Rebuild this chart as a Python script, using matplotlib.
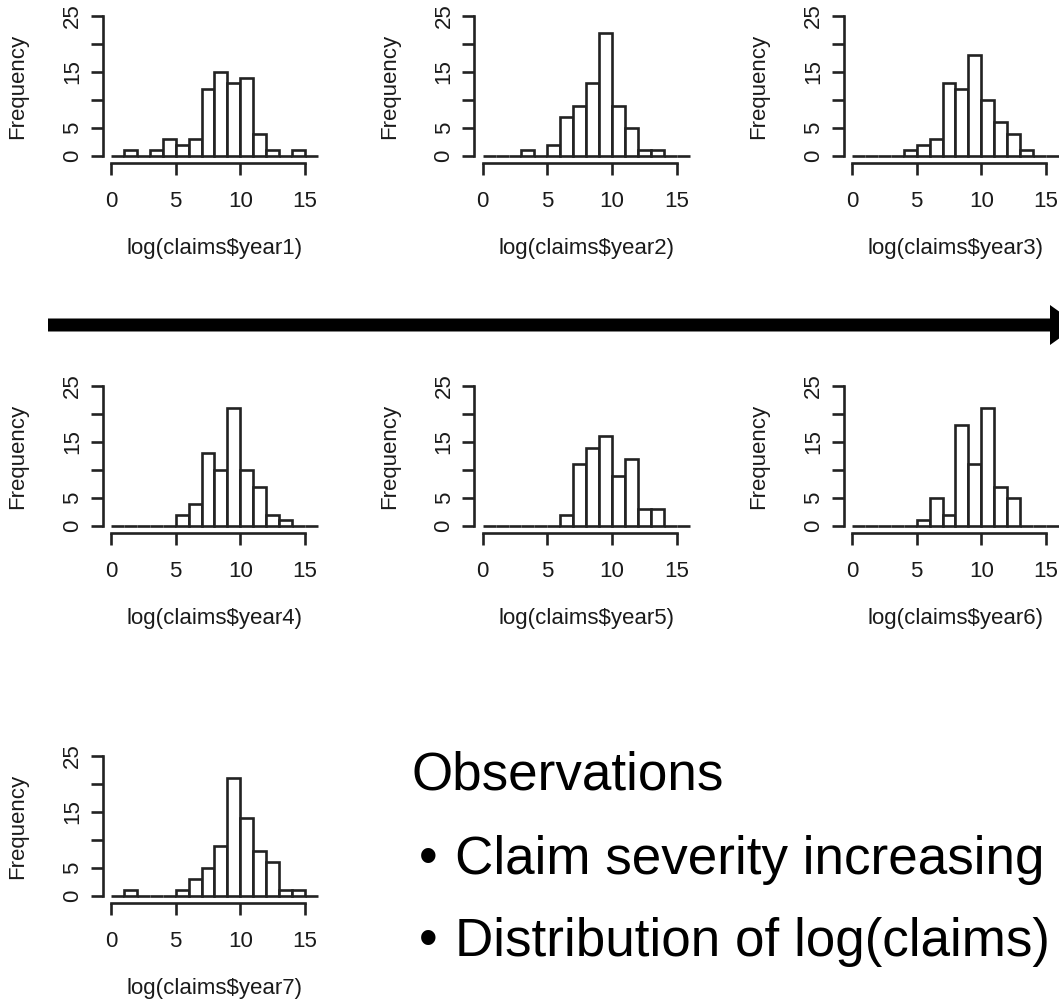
import matplotlib
matplotlib.use("Agg")
import matplotlib.pyplot as plt
from matplotlib.patches import FancyArrow
import numpy as np

plt.rcParams['font.family'] = ['Liberation Sans', 'DejaVu Sans']

# ---- data: histogram counts for bins [0,1),[1,2),...,[15,16) ----
bin_edges = list(range(0, 17))
year1 = [0, 1, 0, 1, 3, 2, 3, 12, 15, 13, 14, 4, 1, 0, 1, 0]
year2 = [0, 0, 0, 1, 0, 2, 7, 9, 13, 22, 9, 5, 1, 1, 0, 0]
year3 = [0, 0, 0, 0, 1, 2, 3, 13, 12, 18, 10, 6, 4, 1, 0, 0]
year4 = [0, 0, 0, 0, 0, 2, 4, 13, 10, 21, 10, 7, 2, 1, 0, 0]
year5 = [0, 0, 0, 0, 0, 0, 2, 11, 14, 16, 9, 12, 3, 3, 0, 0]
year6 = [0, 0, 0, 0, 0, 1, 5, 2, 18, 11, 21, 7, 5, 0, 0, 0]
year7 = [0, 1, 0, 0, 0, 1, 3, 5, 9, 21, 14, 8, 6, 1, 1, 0]
series = [year1, year2, year3, year4, year5, year6, year7]
xlabels = ["log(claims$year%d)" % i for i in range(1, 8)]
xticks = [0, 5, 10, 15]
yticks = [0, 5, 10, 15, 20, 25]
ytick_labels = ["0", "5", "", "15", "", "25"]
obs_title = "Observations"
bullet_texts = ["Claim severity increasing", "Distribution of log(claims)"]

W, H = 1059, 1000
fig = plt.figure(figsize=(W / 100, H / 100), dpi=100)
fig.patch.set_facecolor("white")

col_x0 = [111, 482.7, 852]
row_y0 = [156, 526, 896]
pxx = 12.93
pxy = 5.6
XL = (-0.64, 16.64)
YL = (-1.2, 26)
LC = "#222222"
TC = "#1a1a1a"
LW = 1.9
FS = 16

positions = [(0, 0), (0, 1), (0, 2), (1, 0), (1, 1), (1, 2), (2, 0)]
for k, (r, c) in enumerate(positions):
    x0 = col_x0[c]
    y0 = row_y0[r]
    left = x0 + XL[0] * pxx
    width = (XL[1] - XL[0]) * pxx
    bottom_px = y0 - YL[0] * pxy
    height = (YL[1] - YL[0]) * pxy
    ax = fig.add_axes([left / W, 1 - bottom_px / H, width / W, height / H])
    ax.set_xlim(*XL)
    ax.set_ylim(*YL)
    ax.patch.set_alpha(0)
    ax.bar(bin_edges[:-1], series[k], width=1, align="edge",
           facecolor="white", edgecolor=LC, linewidth=LW, clip_on=False)
    for s in ["top", "right"]:
        ax.spines[s].set_visible(False)
    ax.spines["left"].set_bounds(0, 25)
    ax.spines["bottom"].set_bounds(0, 15)
    for s in ["left", "bottom"]:
        ax.spines[s].set_color(LC)
        ax.spines[s].set_linewidth(LW)
    ax.set_xticks(xticks)
    ax.set_xticklabels([str(t) for t in xticks])
    ax.set_yticks(yticks)
    ax.set_yticklabels(ytick_labels)
    ax.tick_params(axis="both", direction="out", length=8.3, width=LW,
                   color=LC, labelsize=FS, labelcolor=TC)
    ax.tick_params(axis="x", pad=12)
    ax.tick_params(axis="y", pad=6)
    for lab in ax.get_yticklabels():
        lab.set_rotation(90)
        lab.set_va("center")
        lab.set_ha("right")
    ax.set_xlabel(xlabels[k], fontsize=FS, color=TC, labelpad=18.5)
    ax.set_ylabel("Frequency", fontsize=FS, color=TC, labelpad=24)

# timeline arrow
arrow = FancyArrow(48 / W, 1 - 325 / H, (1078 - 48) / W, 0,
                   width=13 / H, head_width=40 / H, head_length=28 / W,
                   length_includes_head=True, transform=fig.transFigure,
                   facecolor="black", edgecolor="black", linewidth=0)
fig.patches.append(arrow)

# observations text
BFS = 38.2
fig.text(412 / W, 1 - 790 / H, obs_title, fontsize=BFS, color="black",
         ha="left", va="baseline")
for yb, txt in zip([874, 956], bullet_texts):
    fig.text(419 / W, 1 - yb / H, "\u2022", fontsize=BFS, color="black",
             ha="left", va="baseline")
    fig.text(455 / W, 1 - yb / H, txt, fontsize=BFS, color="black",
             ha="left", va="baseline")

fig.savefig("out.png", dpi=100, facecolor="white")
